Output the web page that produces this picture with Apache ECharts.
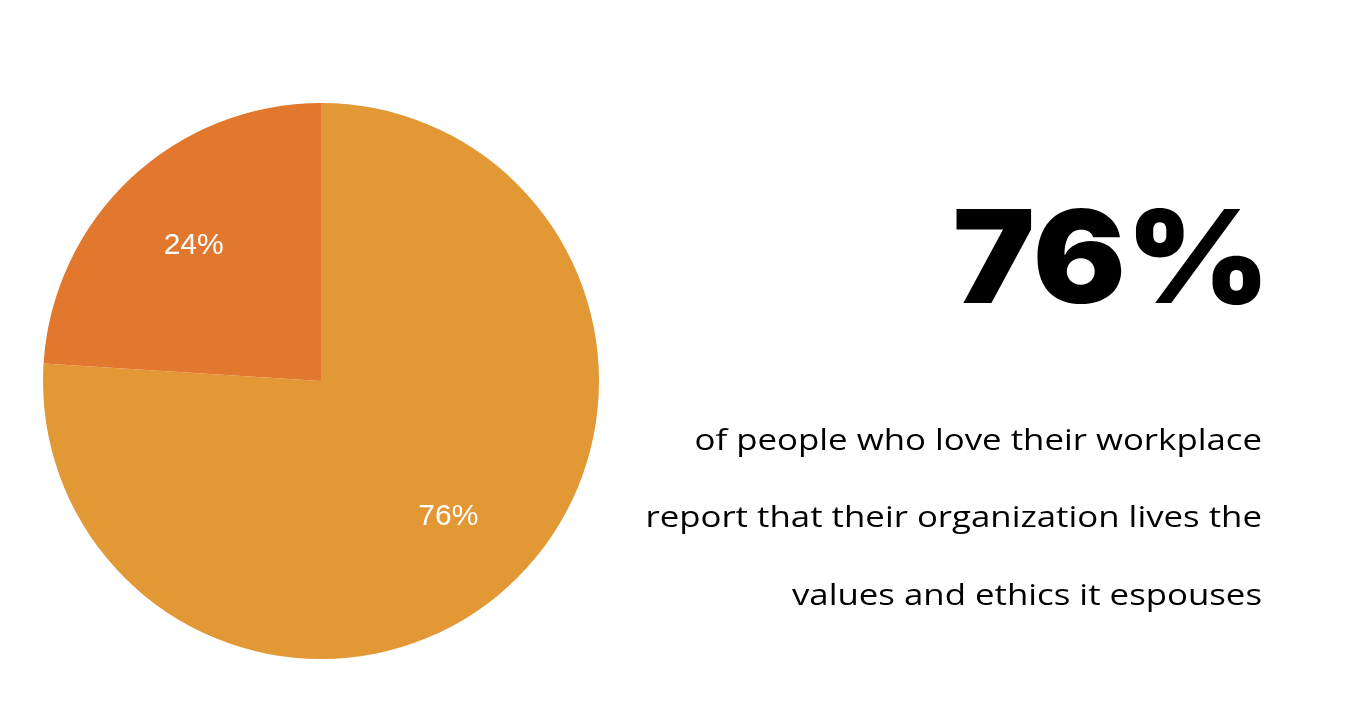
<!DOCTYPE html>
<html>
<head>
<meta charset="utf-8">
<script src="https://cdn.jsdelivr.net/npm/echarts@6/dist/echarts.min.js"></script>
<style>
html,body{margin:0;padding:0;background:#fff;}
#chart{width:1360px;height:710px;}
</style>
</head>
<body>
<div id="chart"></div>
<script>
const categories = ['Lives the values', 'Does not'];
const values = [76, 24];
const colors = ['#E39836', '#E2782E'];
const headline = '76%';
const captionLines = [
  'of people who love their workplace',
  'report that their organization lives the',
  'values and ethics it espouses'
];

const chart = echarts.init(document.getElementById('chart'), null, {renderer: 'canvas'});
const data = categories.map((c, i) => ({name: c, value: values[i], itemStyle: {color: colors[i]}}));
const ghost = categories.map((c, i) => ({name: c, value: values[i]}));

const graphics = [{
  type: 'text', x: 1270, y: 264, scaleX: 1.07, scaleY: 1,
  style: {text: headline, fontFamily: 'Inter', fontWeight: 900, fontSize: 129,
    fill: '#000', textAlign: 'right', textVerticalAlign: 'middle'}
}];
captionLines.forEach((t, i) => {
  graphics.push({type: 'text', x: 1262, y: 441 + i * 77.5, scaleX: 1.16, scaleY: 1,
    style: {text: t, fontFamily: 'Open Sans', fontSize: 30, fill: '#000',
      textAlign: 'right', textVerticalAlign: 'middle'}});
});

chart.setOption({
  animation: false,
  backgroundColor: '#fff',
  series: [{
    type: 'pie', center: [321, 381], radius: 278, startAngle: 90, clockwise: true,
    data: data, label: {show: false}, labelLine: {show: false}, silent: true
  }, {
    type: 'pie', center: [321, 381], radius: [88, 278], startAngle: 90, clockwise: true,
    data: ghost, silent: true,
    itemStyle: {color: 'rgba(0,0,0,0)'},
    label: {show: true, position: 'inside', color: '#fff', fontFamily: 'Liberation Sans',
      fontSize: 30, formatter: p => p.value + '%'},
    labelLine: {show: false}
  }],
  graphic: graphics
});
</script>
</body>
</html>
